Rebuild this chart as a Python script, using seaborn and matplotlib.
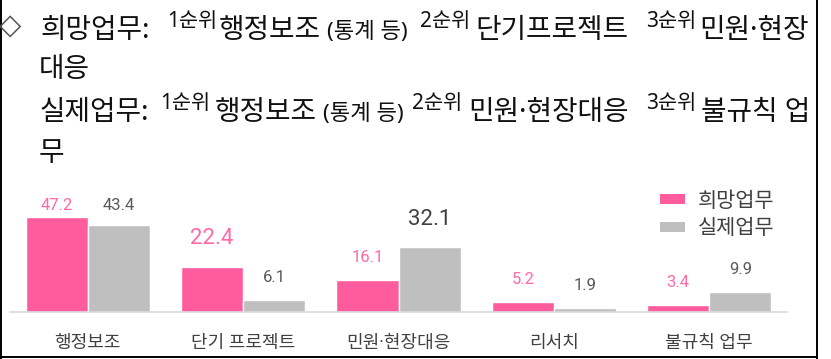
import matplotlib
matplotlib.use("Agg")
import matplotlib.pyplot as plt
import seaborn as sns
import pandas as pd
from matplotlib.lines import Line2D
from matplotlib.patches import Patch

# ---------------- data ----------------
categories = ["행정보조", "단기 프로젝트", "민원·현장대응", "리서치", "불규칙 업무"]
series_names = ["희망업무", "실제업무"]
hope_values = [47.2, 22.4, 16.1, 5.2, 3.4]
actual_values = [43.4, 6.1, 32.1, 1.9, 9.9]
hope_emphasis = [False, True, False, False, False]
actual_emphasis = [False, False, True, False, False]

title_marker = "◇"
title_line1 = ["희망업무:", "1순위", "행정보조", "(통계 등)", "2순위", "단기프로젝트", "3순위", "민원·현장"]
title_line2 = ["대응"]
title_line3 = ["실제업무:", "1순위", "행정보조", "(통계 등)", "2순위", "민원·현장대응", "3순위", "불규칙 업"]
title_line4 = ["무"]

# ---------------- style ----------------
W, H = 831, 359
PINK = "#FF5C9E"
PINK_TXT = "#FF6AA6"
GRAY = "#BFBFBF"
GRAY_TXT = "#595959"
GRAY_BIG = "#404040"

sns.set_style("white")
plt.rcParams["font.family"] = ["Noto Sans CJK KR", "DejaVu Sans"]
HEAD_FAMILY = ["Noto Sans", "Noto Sans CJK KR"]
TICK_FAMILY = ["Roboto", "Noto Sans CJK KR"]

fig = plt.figure(figsize=(W / 100, H / 100), dpi=100)
fig.patch.set_facecolor("white")

# ---------------- header text ----------------
sizes = {"main": 20, "sup": 15, "small": 16}
kinds1 = ["main", "sup", "main", "small", "sup", "main", "sup", "main"]
xs1 = [41, 167, 219, 327, 420, 475, 646, 699]
kinds3 = ["main", "sup", "main", "small", "sup", "main", "sup", "main"]
xs3 = [39, 160, 215, 323, 412, 468, 646, 701]
sup_rise = 11


def put(x, y, s, kind):
    fig.text(x / W, 1 - y / H, s, fontsize=sizes[kind], color="#111111",
             ha="left", va="baseline", family=HEAD_FAMILY)


def put_line(texts, kinds, xs, base):
    for s, k, x in zip(texts, kinds, xs):
        y = base - sup_rise if k == "sup" else base
        put(x, y, s, k)


fig.text(-1 / W, 1 - 34 / H, title_marker, fontsize=21, color="#555555",
         ha="left", va="baseline", family=["DejaVu Sans"])
put_line(title_line1, kinds1, xs1, 38)
put_line(title_line2, ["main"], [39], 77)
put_line(title_line3, kinds3, xs3, 120)
put_line(title_line4, ["main"], [39], 161)

# ---------------- chart ----------------
df = pd.DataFrame({
    "category": categories * 2,
    "series": [series_names[0]] * len(categories) + [series_names[1]] * len(categories),
    "value": hope_values + actual_values,
})

axis_y = 312
ymax = 60
px_per_unit = 2.01
ax = fig.add_axes([10 / W, (H - axis_y) / H, 777 / W, ymax * px_per_unit / H])
sns.barplot(data=df, x="category", y="value", hue="series", order=categories,
            hue_order=series_names, palette=[PINK, GRAY], saturation=1,
            width=0.8, errorbar=None, legend=False, ax=ax)
ax.set_xlim(-0.5, len(categories) - 0.5)
ax.set_ylim(0, ymax)
ax.set_facecolor("none")
for side in ["left", "right", "top"]:
    ax.spines[side].set_visible(False)
ax.spines["bottom"].set_color("#D9D9D9")
ax.spines["bottom"].set_linewidth(1.2)
ax.set_yticks([])
ax.set_xlabel("")
ax.set_ylabel("")
ax.set_xticks(range(len(categories)))
ax.set_xticklabels(categories, fontsize=13, color="#404040", family=TICK_FAMILY)
ax.set_xticks([i - 0.5 for i in range(len(categories) + 1)], minor=True)
ax.tick_params(axis="x", which="major", length=0, pad=15.5)
ax.tick_params(axis="x", which="minor", length=4, width=1.2, color="#D9D9D9")

cap_disp = H - 205
for cont, vals, emph, col_n, col_b in [
    (ax.containers[0], hope_values, hope_emphasis, PINK_TXT, PINK_TXT),
    (ax.containers[1], actual_values, actual_emphasis, GRAY_TXT, GRAY_BIG),
]:
    for bar, v, big in zip(cont, vals, emph):
        x = bar.get_x() + bar.get_width() / 2
        top = ax.transData.transform((x, v))[1]
        off = 28 if big else 22.5
        dy = min(off, cap_disp - top)
        ax.annotate(f"{v:.1f}", xy=(x, v), xytext=(0, dy),
                    textcoords="offset pixels", ha="center", va="center",
                    fontsize=16 if big else 12,
                    color=col_b if big else col_n,
                    family=["Roboto", "DejaVu Sans"])

handles = [Patch(facecolor=PINK, edgecolor="none"), Patch(facecolor=GRAY, edgecolor="none")]
fig.legend(handles, series_names, loc="center left",
           bbox_to_anchor=(660 / W, 1 - 214.5 / H), frameon=False, fontsize=15,
           handlelength=1.2, handleheight=0.34, handletextpad=0.62,
           labelspacing=0.26, borderpad=0, borderaxespad=0,
           labelcolor="#404040")

# ---------------- frame ----------------
lw = 1.4
fig.add_artist(Line2D([1 / W, 1 / W], [0, 1], transform=fig.transFigure, color="black", lw=lw))
fig.add_artist(Line2D([817 / W, 817 / W], [0, 1], transform=fig.transFigure, color="black", lw=lw))
fig.add_artist(Line2D([0, 817 / W], [2.5 / H, 2.5 / H], transform=fig.transFigure, color="black", lw=lw))

fig.savefig("out.png", dpi=100, facecolor="white")
